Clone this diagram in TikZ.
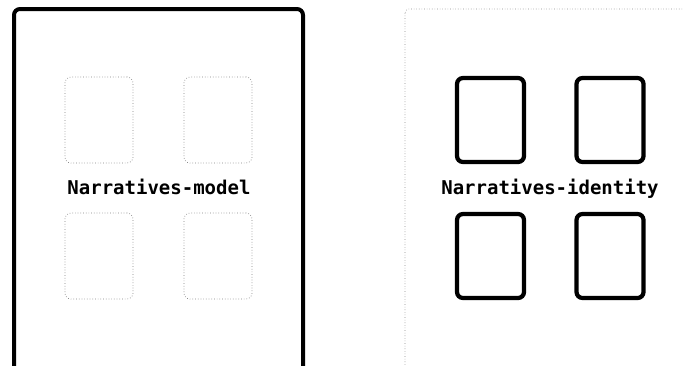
\documentclass[tikz,border=0pt]{standalone}
\usepackage{fontspec}
\setmonofont{DejaVu Sans Mono}

\begin{document}
\begin{tikzpicture}[
  x=1pt,
  y=-1pt,
  panel/.style={
    draw,
    line width=4pt,
    rounded corners=6pt
  },
  ghostpanel/.style={
    draw=black!45,
    dotted,
    line width=0.6pt,
    rounded corners=4pt
  },
  card/.style={
    draw,
    line width=4.2pt,
    rounded corners=6pt,
    minimum width=67pt,
    minimum height=84pt,
    inner sep=0pt
  },
  ghostcard/.style={
    draw=black!50,
    dotted,
    line width=0.7pt,
    rounded corners=6pt,
    minimum width=68pt,
    minimum height=86pt,
    inner sep=0pt
  },
  paneltitle/.style={
    inner sep=0pt,
    anchor=base,
    font=\ttfamily\bfseries\fontsize{19}{22}\selectfont
  }
]

\useasboundingbox (0,0) rectangle (684,365);
\clip (0,0) rectangle (684,365);

% Left panel: model
\draw[panel] (14,9) rectangle (303,380);

\foreach \c/\x in {a/99,b/218}{
  \foreach \r/\y in {1/120,2/256}{
    \node[ghostcard] (model-\c\r) at (\x,\y) {};
  }
}

\node[paneltitle] (model) at (159,194) {Narratives-model};

% Right panel: identity
\draw[ghostpanel] (405,9) rectangle (700,380);

\foreach \c/\x in {a/490.5,b/610}{
  \foreach \r/\y in {1/120,2/256}{
    \node[card] (identity-\c\r) at (\x,\y) {};
  }
}

\node[paneltitle] (identity) at (550,194) {Narratives-identity};

\end{tikzpicture}
\end{document}
